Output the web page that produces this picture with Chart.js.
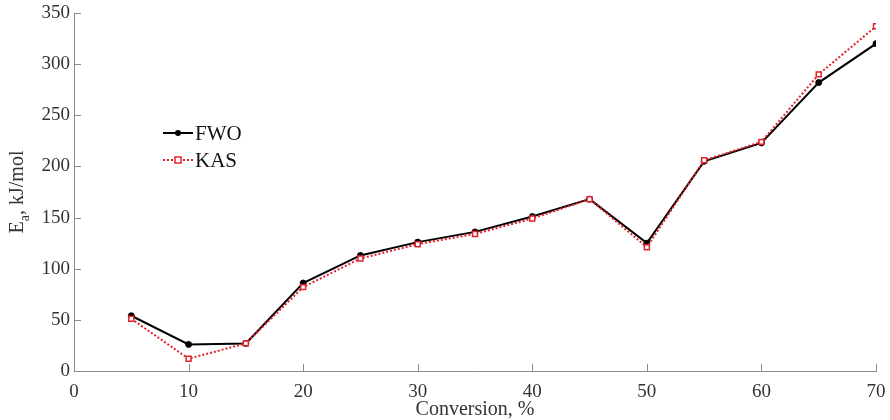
<!DOCTYPE html>
<html lang="en">
<head>
<meta charset="UTF-8">
<title>Activation energy vs conversion</title>
<script src="https://cdn.jsdelivr.net/npm/chart.js@4/dist/chart.umd.min.js"></script>
<style>
body { margin: 0; background: #fff; }
#wrap { width: 890px; height: 420px; }
</style>
</head>
<body>
<div id="wrap"><canvas id="eaChart" width="890" height="420"></canvas></div>
<script>
// data
const conversion = [5, 10, 15, 20, 25, 30, 35, 40, 45, 50, 55, 60, 65, 70];
const fwo = [54, 26, 27, 86, 113, 126, 136, 151, 168, 125, 205, 223, 282, 320];
const kas = [51, 12, 27, 82, 110, 124, 134, 149, 168, 121, 206, 224, 290, 337];
const xTicks = [0, 10, 20, 30, 40, 50, 60, 70];
const yTicks = [0, 50, 100, 150, 200, 250, 300, 350];

const serif = "'Liberation Serif', 'Times New Roman', serif";
const axisGrey = "#8c8c8c";
const red = "#e3202a";

function points(ys) {
    return conversion.map((x, i) => ({ x: x, y: ys[i] }));
}

// inward tick marks, axis titles and legend inside the plot
const decorations = {
    id: "decorations",
    afterDraw(chart) {
        const ctx = chart.ctx;
        const area = chart.chartArea;
        const xs = chart.scales.x, ys = chart.scales.y;
        ctx.save();
        ctx.strokeStyle = axisGrey;
        ctx.lineWidth = 1;
        xTicks.forEach(t => {
            const px = Math.round(xs.getPixelForValue(t)) + 0.5;
            ctx.beginPath();
            ctx.moveTo(px, area.bottom);
            ctx.lineTo(px, area.bottom - 7);
            ctx.stroke();
        });
        yTicks.forEach(t => {
            const py = Math.round(ys.getPixelForValue(t)) + 0.5;
            ctx.beginPath();
            ctx.moveTo(area.left, py);
            ctx.lineTo(area.left + 7, py);
            ctx.stroke();
        });

        ctx.fillStyle = "#333";
        // x title
        ctx.font = "20px " + serif;
        ctx.textAlign = "center";
        ctx.textBaseline = "alphabetic";
        ctx.fillText("Conversion, %", (area.left + area.right) / 2, 415);

        // y title with subscript
        ctx.save();
        ctx.translate(23, (area.top + area.bottom) / 2);
        ctx.rotate(-Math.PI / 2);
        const big = "20px " + serif, small = "14px " + serif;
        ctx.font = big;
        const wE = ctx.measureText("E").width;
        const wRest = ctx.measureText(", kJ/mol").width;
        ctx.font = small;
        const wA = ctx.measureText("a").width;
        let x0 = -(wE + wA + wRest) / 2;
        ctx.textAlign = "left";
        ctx.font = big;
        ctx.fillText("E", x0, 0);
        ctx.font = small;
        ctx.fillText("a", x0 + wE, 6);
        ctx.font = big;
        ctx.fillText(", kJ/mol", x0 + wE + wA, 0);
        ctx.restore();

        // legend
        ctx.font = "21px " + serif;
        ctx.textAlign = "left";
        ctx.textBaseline = "middle";
        ctx.strokeStyle = "#000";
        ctx.lineWidth = 2;
        ctx.setLineDash([]);
        ctx.beginPath();
        ctx.moveTo(163, 133); ctx.lineTo(193, 133);
        ctx.stroke();
        ctx.beginPath();
        ctx.arc(178, 133, 3, 0, Math.PI * 2);
        ctx.fillStyle = "#000";
        ctx.fill();
        ctx.fillStyle = "#111";
        ctx.fillText("FWO", 195, 134);

        ctx.strokeStyle = red;
        ctx.setLineDash([2, 2]);
        ctx.beginPath();
        ctx.moveTo(163, 160); ctx.lineTo(193, 160);
        ctx.stroke();
        ctx.setLineDash([]);
        ctx.fillStyle = "#fff";
        ctx.fillRect(175, 157, 6, 6);
        ctx.lineWidth = 1.5;
        ctx.strokeRect(175, 157, 6, 6);
        ctx.fillStyle = "#111";
        ctx.fillText("KAS", 195, 161);
        ctx.restore();
    }
};

const chart = new Chart(document.getElementById("eaChart"), {
    type: "line",
    data: {
        datasets: [{
            label: "FWO",
            data: points(fwo),
            borderColor: "#000",
            backgroundColor: "#000",
            borderWidth: 2,
            pointStyle: "circle",
            pointRadius: 3,
            pointBorderWidth: 1,
            order: 1
        }, {
            label: "KAS",
            data: points(kas),
            borderColor: red,
            backgroundColor: "#fff",
            borderWidth: 2,
            borderDash: [2, 2],
            pointStyle: "rect",
            pointRadius: 3.5,
            pointBorderWidth: 1.5,
            order: 0
        }]
    },
    options: {
        responsive: false,
        animation: false,
        layout: { padding: { left: 0, right: 14, top: 13, bottom: 0 } },
        plugins: {
            legend: { display: false },
            tooltip: { enabled: false }
        },
        scales: {
            x: {
                type: "linear",
                min: 0, max: 70,
                afterFit(scale) {
                    scale.height = 49;
                    scale.paddingLeft = 0;
                    scale.paddingRight = 0;
                },
                afterBuildTicks(scale) { scale.ticks = xTicks.map(v => ({ value: v })); },
                grid: { display: false, drawTicks: false },
                border: { display: true, color: axisGrey, width: 1 },
                ticks: { color: "#333", padding: 10, font: { family: serif, size: 19 } }
            },
            y: {
                min: 0, max: 350,
                afterFit(scale) {
                    scale.width = 74;
                    scale.paddingTop = 0;
                    scale.paddingBottom = 0;
                },
                afterBuildTicks(scale) { scale.ticks = yTicks.map(v => ({ value: v })); },
                grid: { display: false, drawTicks: false },
                border: { display: true, color: axisGrey, width: 1 },
                ticks: { color: "#333", padding: 4, font: { family: serif, size: 19 } }
            }
        }
    },
    plugins: [decorations]
});
</script>
</body>
</html>
